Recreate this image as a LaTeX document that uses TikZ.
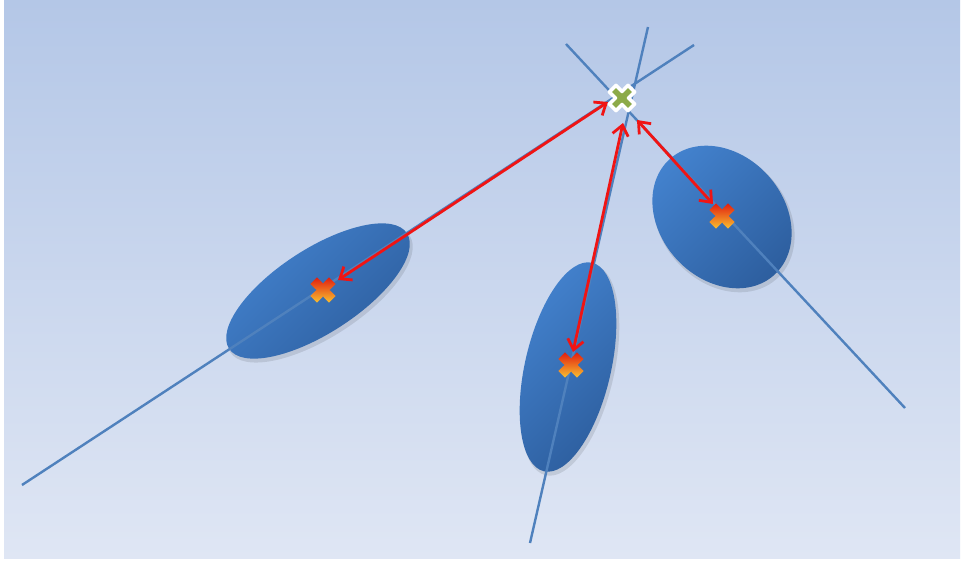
\documentclass[tikz,border=0pt]{standalone}
\usetikzlibrary{arrows.meta}
\definecolor{bgtop}{HTML}{B4C7E7}
\definecolor{bgbot}{HTML}{DFE6F4}
\definecolor{elllight}{HTML}{4382CE}
\definecolor{elldark}{HTML}{2D5E9E}
\definecolor{lineblue}{HTML}{4F81BD}
\definecolor{arrred}{HTML}{F01414}
\definecolor{xred}{HTML}{E01E10}
\definecolor{xyel}{HTML}{F9C030}
\definecolor{xgreen}{HTML}{8CAA48}
\tikzset{
  axisline/.style={draw=lineblue, line width=2.4pt},
  errarrow/.style={draw=arrred, line width=2.8pt,
     {Straight Barb[length=10pt,width=16pt]}-{Straight Barb[length=10pt,width=16pt]}},
  blob/.style={top color=elllight, bottom color=elldark, shading angle=45},
  blobshadow/.style={fill=black, opacity=0.10},
  pics/xmk/.style={code={
    \shade[top color=xred, bottom color=xyel, scale=1.1]
      (5.9,0) -- (11.5,5.5) -- (5.5,11.5) -- (0,5.9) -- (-5.5,11.5) -- (-11.5,5.5)
      -- (-5.9,0) -- (-11.5,-5.5) -- (-5.5,-11.5) -- (0,-5.9) -- (5.5,-11.5) -- (11.5,-5.5) -- cycle;
  }},
  pics/gmk/.style={code={
    \filldraw[fill=xgreen, draw=white, line width=3.5pt, line join=round, scale=1.1]
      (5.9,0) -- (11.5,5.5) -- (5.5,11.5) -- (0,5.9) -- (-5.5,11.5) -- (-11.5,5.5)
      -- (-5.9,0) -- (-11.5,-5.5) -- (-5.5,-11.5) -- (0,-5.9) -- (5.5,-11.5) -- (11.5,-5.5) -- cycle;
  }}
}
\begin{document}
\begin{tikzpicture}[x=1pt,y=-1pt]
\useasboundingbox (0,0) rectangle (961,561);
\fill[white] (0,0) rectangle (961,561);
\shade[top color=bgtop, bottom color=bgbot] (4,1) rectangle (960,558);

% ellipses
\fill[blobshadow, rotate around={33:(320,294)}] (320,294) ellipse [x radius=107pt, y radius=43pt];
\fill[blobshadow, rotate around={77:(570,370)}] (570,370) ellipse [x radius=108pt, y radius=44pt];
\fill[blobshadow, rotate around={-48:(724,220)}] (724,220) ellipse [x radius=79pt, y radius=63pt];
\shade[blob, rotate around={33:(318,291)}] (318,291) ellipse [x radius=106pt, y radius=42pt];
\shade[blob, rotate around={77:(568,367)}] (568,367) ellipse [x radius=107pt, y radius=43pt];
\shade[blob, rotate around={-48:(722,217)}] (722,217) ellipse [x radius=78pt, y radius=62pt];

% line end points
\coordinate (la1) at (22,485);
\coordinate (la2) at (694,45);
\coordinate (lb1) at (530,543);
\coordinate (lb2) at (648,27);
\coordinate (lc1) at (566,44);
\coordinate (lc2) at (905,408);
\draw[axisline] (la1) -- (la2);
\draw[axisline] (lb1) -- (lb2);
\draw[axisline] (lc1) -- (lc2);

% arrows
\coordinate (a1s) at (608,102);
\coordinate (a1e) at (338,280);
\coordinate (a2s) at (623,123);
\coordinate (a2e) at (573,352);
\coordinate (a3s) at (637,120);
\coordinate (a3e) at (713,204);
\draw[errarrow] (a1s) -- (a1e);
\draw[errarrow] (a2s) -- (a2e);
\draw[errarrow] (a3s) -- (a3e);

% markers
\coordinate (m1) at (323,290);
\coordinate (m2) at (571,365);
\coordinate (m3) at (722,216);
\coordinate (g) at (622,98);
\pic at (m1) {xmk};
\pic at (m2) {xmk};
\pic at (m3) {xmk};
\pic at (g) {gmk};
\end{tikzpicture}
\end{document}
